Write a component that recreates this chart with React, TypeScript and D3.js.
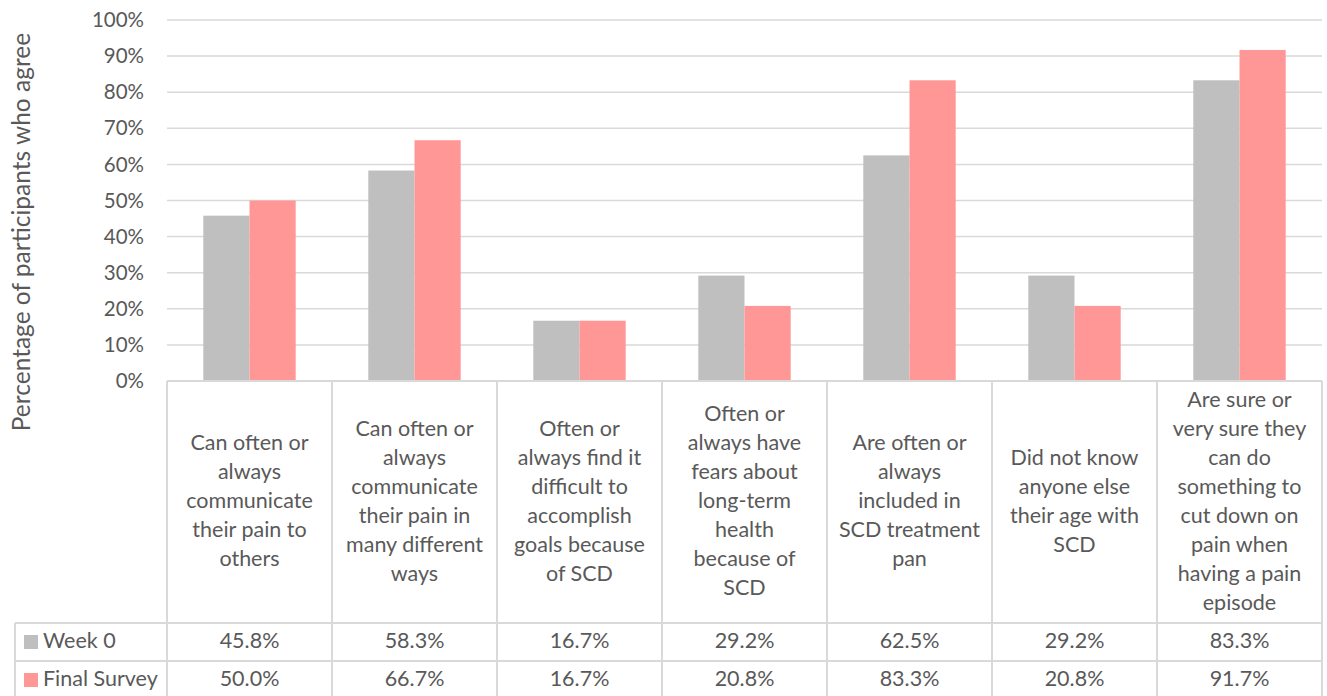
import React from "react";
import * as d3 from "d3";

const categories = [
  "Can often or\nalways\ncommunicate\ntheir pain to\nothers",
  "Can often or\nalways\ncommunicate\ntheir pain in\nmany different\nways",
  "Often or\nalways find it\ndifficult to\naccomplish\ngoals because\nof SCD",
  "Often or\nalways have\nfears about\nlong-term\nhealth\nbecause of\nSCD",
  "Are often or\nalways\nincluded in\nSCD treatment\npan",
  "Did not know\nanyone else\ntheir age with\nSCD",
  "Are sure or\nvery sure they\ncan do\nsomething to\ncut down on\npain when\nhaving a pain\nepisode",
];
const week0 = [45.8, 58.3, 16.7, 29.2, 62.5, 29.2, 83.3];
const finalSurvey = [50.0, 66.7, 16.7, 20.8, 83.3, 20.8, 91.7];
const seriesNames = ["Week 0", "Final Survey"];
const seriesColors = ["#bfbfbf", "#ff9797"];
const yTicks = [0, 10, 20, 30, 40, 50, 60, 70, 80, 90, 100];

const W = 1327;
const H = 696;
const left = 167;
const right = 1322;
const top = 20;
const base = 381;
const row1 = 623;
const row2 = 661;
const rowEnd = 699;
const tableLeft = 15;
const FONT = "Lato, 'Open Sans', sans-serif";
const TEXT = "#595959";
const LINE = "#d9d9d9";

export default function App() {
  const y = d3.scaleLinear().domain([0, 100]).range([base, top]);
  const x = d3.scaleBand<number>().domain(d3.range(categories.length)).range([left, right]).paddingInner(0).paddingOuter(0);
  const groupPad = 0.22;
  const inner = d3
    .scaleBand<number>()
    .domain([0, 1])
    .range([x.bandwidth() * groupPad, x.bandwidth() * (1 - groupPad)]);
  const series = [week0, finalSurvey];
  const lineH = 29;

  return (
    <svg
      width={W}
      height={H}
      viewBox={`0 0 ${W} ${H}`}
      style={{ position: "absolute", left: 0, top: 0, display: "block", background: "#fff" }}
      fontFamily={FONT}
    >
      {yTicks.map((t) => (
        <g key={t}>
          {t > 0 && <line x1={left} x2={right} y1={y(t)} y2={y(t)} stroke={LINE} strokeWidth={1.5} />}
          <text x={144} y={y(t)} dy="0.35em" textAnchor="end" fontSize={20.5} fill={TEXT}>
            {t}%
          </text>
        </g>
      ))}
      <text
        transform={`translate(30, 232) rotate(-90)`}
        textAnchor="middle"
        fontSize={24.5}
        fill={TEXT}
      >
        Percentage of participants who agree
      </text>

      {series.map((vals, si) =>
        vals.map((v, i) => (
          <rect
            key={`${si}-${i}`}
            x={(x(i) ?? 0) + (inner(si) ?? 0)}
            y={y(v)}
            width={inner.bandwidth()}
            height={base - y(v)}
            fill={seriesColors[si]}
          />
        ))
      )}

      {/* table grid */}
      <line x1={left} x2={right} y1={base} y2={base} stroke={LINE} strokeWidth={2} />
      <line x1={tableLeft} x2={right} y1={row1} y2={row1} stroke={LINE} strokeWidth={2} />
      <line x1={tableLeft} x2={right} y1={row2} y2={row2} stroke={LINE} strokeWidth={2} />
      <line x1={tableLeft} x2={tableLeft} y1={row1} y2={rowEnd} stroke={LINE} strokeWidth={2} />
      {d3.range(categories.length + 1).map((i) => {
        const xx = i < categories.length ? (x(i) ?? 0) : right;
        return <line key={i} x1={xx} x2={xx} y1={base} y2={rowEnd} stroke={LINE} strokeWidth={2} />;
      })}

      {categories.map((c, i) => {
        const lines = c.split("\n");
        const cx = (x(i) ?? 0) + x.bandwidth() / 2;
        const mid = (base + row1) / 2;
        const start = mid - ((lines.length - 1) * lineH) / 2;
        return (
          <text key={i} textAnchor="middle" fontSize={21.5} fill={TEXT}>
            {lines.map((l, j) => (
              <tspan key={j} x={cx} y={start + j * lineH} dy="0.3em">
                {l}
              </tspan>
            ))}
          </text>
        );
      })}

      {series.map((vals, si) => {
        const rowMid = si === 0 ? (row1 + row2) / 2 : (row2 + rowEnd) / 2;
        return (
          <g key={si}>
            <rect x={24} y={rowMid - 7} width={14} height={14} fill={seriesColors[si]} />
            <text x={43} y={rowMid} dy="0.28em" fontSize={21.5} fill={TEXT}>
              {seriesNames[si]}
            </text>
            {vals.map((v, i) => (
              <text
                key={i}
                x={(x(i) ?? 0) + x.bandwidth() / 2}
                y={rowMid}
                dy="0.28em"
                textAnchor="middle"
                fontSize={21.5}
                fill={TEXT}
              >
                {v.toFixed(1)}%
              </text>
            ))}
          </g>
        );
      })}
    </svg>
  );
}
